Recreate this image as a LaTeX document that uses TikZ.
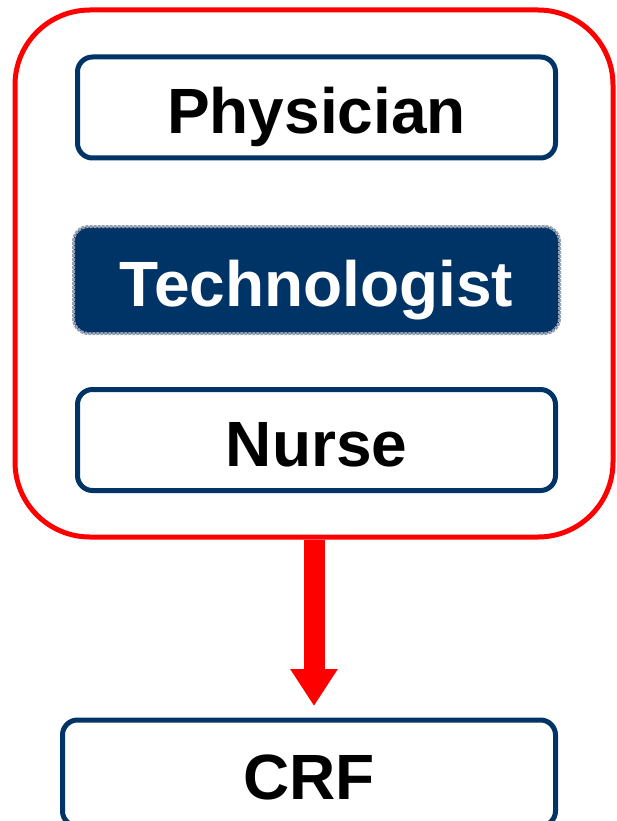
\documentclass[tikz,border=0pt]{standalone}
\usepackage{fontspec}
\setmainfont{Liberation Sans}
\usetikzlibrary{arrows.meta}
\definecolor{navy}{RGB}{0,51,102}
\definecolor{haze}{RGB}{150,160,178}
\tikzset{
  role/.style={draw=navy, line width=5pt, rounded corners=15pt, fill=white,
    minimum width=478pt, minimum height=101pt, inner sep=0pt,
    text height=53pt, text depth=0pt,
    font=\fontsize{64}{76}\selectfont\bfseries},
  active/.style={role, draw=haze, line width=3pt, densely dotted, fill=navy, text=white,
    minimum width=486pt, minimum height=107pt},
  group/.style={draw=red, line width=5pt, rounded corners=75pt,
    minimum width=598pt, minimum height=527pt, inner sep=0pt}
}
\begin{document}
\begin{tikzpicture}[x=1pt, y=-1pt]
   \useasboundingbox (0,0) rectangle (616,821);
   \node[group] (team) at (314,273.5) {};   % red frame
   \node[role] (phys) at (316.5,107.5) {Physician};
   \node[active] (tech) at (316.5,280) {Technologist};
   \node[role] (nurse) at (316.5,440) {Nurse};
   \node[role, minimum width=493pt, minimum height=106pt] (crf) at (309,773) {CRF};
   \draw[red, line width=21pt, -{Triangle[width=45pt,length=37pt]}, shorten >=11.5pt]
      (team.south) -- (team.south |- crf.north);
\end{tikzpicture}
\end{document}
